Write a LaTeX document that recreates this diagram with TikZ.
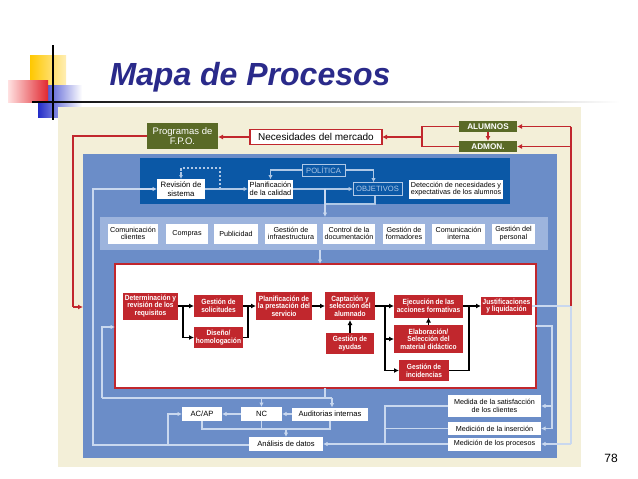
\documentclass[tikz,border=0pt]{standalone}
\usepackage{fontspec}
\setmainfont{Liberation Sans}
\newfontfamily\cond{Liberation Sans}[FakeStretch=0.88]
\usetikzlibrary{arrows.meta,calc}
\definecolor{beige}{HTML}{F3EFD8}
\definecolor{panel}{HTML}{6B8DC8}
\definecolor{band}{HTML}{0B58A6}
\definecolor{gband}{HTML}{9DB4DD}
\definecolor{ln}{HTML}{C9D8EF}
\definecolor{bandln}{HTML}{AFC8E6}
\definecolor{redc}{HTML}{C1272D}
\definecolor{greenc}{HTML}{5A6A27}
\definecolor{titlec}{HTML}{2A2A8A}
\tikzset{
  region/.style={inner sep=0pt, outer sep=0pt},
  wbox/.style={fill=white, inner sep=0.5pt, outer sep=0pt, align=center, font=\fontsize{7.2}{7.7}\selectfont},
  bbox/.style={fill=white, inner sep=0.5pt, outer sep=0pt, align=center, font=\fontsize{7.8}{8.6}\selectfont},
  pbox/.style={draw=bandln, line width=1pt, text=bandln, inner sep=0.5pt, outer sep=0pt, align=center, font=\fontsize{7.6}{8}\selectfont},
  rbox/.style={fill=redc, text=white, inner sep=0.5pt, outer sep=0pt, align=center, font=\cond\bfseries\fontsize{7.5}{7.6}\selectfont},
  gbox/.style={fill=greenc, text=white, inner sep=0.5pt, outer sep=0pt, align=center, font=\fontsize{9.5}{9.5}\selectfont},
  gboxb/.style={fill=greenc, text=white, inner sep=0.5pt, outer sep=0pt, align=center, font=\bfseries\fontsize{8.2}{8.2}\selectfont},
  nbox/.style={fill=white, draw=redc, line width=1.3pt, inner sep=0.5pt, outer sep=0pt, align=center, font=\fontsize{10}{10}\selectfont},
  lt/.style={draw=ln, line width=1.3pt},
  lta/.style={lt, -{Latex[length=4.5pt,width=4.5pt]}},
  bdl/.style={draw=bandln, line width=1.3pt},
  bda/.style={bdl, -{Latex[length=4.5pt,width=4.5pt]}},
  rl/.style={draw=redc, line width=1.5pt},
  ra/.style={rl, -{Latex[length=5pt,width=5pt]}},
  bl/.style={draw=black, line width=1.6pt},
  ba/.style={bl, -{Latex[length=5pt,width=5pt]}},
}
\begin{document}
\begin{tikzpicture}[x=1pt,y=-1pt]
\useasboundingbox (0,0) rectangle (638,479);
\fill[white] (0,0) rectangle (638,479);

% decoration top-left
\shade[left color={rgb,255:red,255;green,200;blue,0}, right color={rgb,255:red,255;green,238;blue,180}] (30,55) rectangle (66,87);
\shade[left color={rgb,255:red,35;green,45;blue,200}, right color=white] (38,85) rectangle (82,117);
\shade[left color={rgb,255:red,255;green,225;blue,225}, right color={rgb,255:red,225;green,40;blue,48}] (8,80) rectangle (48,102);
\draw[line width=1.3pt] (53,45) -- (53,120);
\shade[left color=black, right color=white] (32,101.4) rectangle (620,102.6);

% title
\node[text=titlec, font=\bfseries\itshape\fontsize{32}{36}\selectfont] (tit) at (250,77) {Mapa de Procesos};

% background regions
\fill[beige] (58,107) rectangle (581,467);
\node[region, fill=panel, minimum width=474, minimum height=304] (panel) at (320,306) {};
\node[region, fill=band, minimum width=370, minimum height=46] (band) at (325,181) {};
\node[region, fill=gband, minimum width=448, minimum height=33] (gb) at (324,233.5) {};
\node[region, draw=redc, fill=white, line width=1.5pt, minimum width=421, minimum height=124] (frame) at (325.5,326) {};

% top boxes
\node[gbox, minimum width=71, minimum height=26] (prog) at (182.5,136) {Programas de\\F.P.O.};
\node[nbox, minimum width=132, minimum height=15] (nec) at (316,137) {Necesidades del mercado};
\node[gboxb, minimum width=58, minimum height=11] (alum) at (488,126.5) {ALUMNOS};
\node[gboxb, minimum width=58, minimum height=11] (admon) at (488,146.5) {ADMON.};

% dark band boxes
\node[bbox, minimum width=48, minimum height=20] (rev) at (181,189) {Revisión de\\sistema};
\node[wbox, font=\fontsize{7.4}{8}\selectfont, minimum width=45, minimum height=19] (plan) at (270.5,189) {Planificación\\de la calidad};
\node[pbox, minimum width=43, minimum height=12] (pol) at (323.5,170) {POLÍTICA};
\node[pbox, minimum width=49, minimum height=13] (obj) at (377.5,189) {OBJETIVOS};
\node[wbox, minimum width=94, minimum height=19] (det) at (456,189) {Detección de necesidades y\\expectativas de los alumnos};

% grey band boxes
\node[wbox, minimum width=50, minimum height=20] (comc) at (133,233.5) {Comunicación\\clientes};
\node[wbox, minimum width=42, minimum height=20] (comp) at (187,233.5) {Compras};
\node[wbox, minimum width=44, minimum height=20] (publ) at (236,233.5) {Publicidad};
\node[wbox, minimum width=52, minimum height=20] (ginf) at (291,233.5) {Gestión de\\infraestructura};
\node[wbox, minimum width=52, minimum height=20] (cdoc) at (349,233.5) {Control de la\\documentación};
\node[wbox, minimum width=42, minimum height=20] (gform) at (404,233.5) {Gestión de\\formadores};
\node[wbox, minimum width=53, minimum height=20] (cint) at (458.5,233.5) {Comunicación\\interna};
\node[wbox, minimum width=43, minimum height=20] (gpers) at (513.5,233.5) {Gestión del\\personal};

% red process boxes
\node[rbox, minimum width=55, minimum height=27] (A) at (150.5,306) {Determinación y\\revisión de los\\requisitos};
\node[rbox, minimum width=49, minimum height=22] (B) at (218.5,306) {Gestión de\\solicitudes};
\node[rbox, minimum width=49, minimum height=21] (C) at (218.5,337.5) {Diseño/\\homologación};
\node[rbox, minimum width=56, minimum height=28] (D) at (284,306) {Planificación de\\la prestación del\\servicio};
\node[rbox, minimum width=50, minimum height=28] (E) at (350,306) {Captación y\\selección del\\alumnado};
\node[rbox, minimum width=48, minimum height=21] (F) at (350,343.5) {Gestión de\\ayudas};
\node[rbox, minimum width=69, minimum height=23] (G) at (428.5,306) {Ejecución de las\\acciones formativas};
\node[rbox, minimum width=69, minimum height=28] (H) at (428.5,339) {Elaboración/\\Selección del\\material didáctico};
\node[rbox, minimum width=50, minimum height=21] (I) at (424,370.5) {Gestión de\\incidencias};
\node[rbox, minimum width=51, minimum height=18] (J) at (506.5,306) {Justificaciones\\y liquidación};

% bottom boxes
\node[bbox, font=\fontsize{7.6}{8}\selectfont, minimum width=40, minimum height=14] (acap) at (202,414) {AC/AP};
\node[bbox, font=\fontsize{7.6}{8}\selectfont, minimum width=41, minimum height=14] (nc) at (261.5,414) {NC};
\node[bbox, font=\fontsize{7.6}{8}\selectfont, minimum width=76, minimum height=13] (aud) at (330,414) {Auditorias internas};
\node[bbox, font=\fontsize{7.6}{8}\selectfont, minimum width=74, minimum height=14] (anal) at (286,444) {Análisis de datos};
\node[wbox, minimum width=93, minimum height=22] (med) at (494.5,406) {Medida de la satisfacción\\de los clientes};
\node[wbox, minimum width=93, minimum height=13] (mins) at (494.5,428.5) {Medición de la inserción};
\node[wbox, minimum width=93, minimum height=13] (mproc) at (494.5,444) {Medición de los procesos};

% page number
\node[font=\fontsize{12}{12}\selectfont] (pg) at (611,458) {78};

% ---- red connectors (top)
\coordinate (rtop) at (571,126.5);
\coordinate (rj) at (571,306);
\coordinate (lj) at (422,137);
\coordinate (pl) at (73,307);
\draw[lt] (J.east) -- (rj) -- (rj |- mproc.east);
\draw[lta] (rj |- mproc.east) -- (mproc.east);
\draw[rl] (rtop) -- (rj);
\draw[ra] (rtop) -- (alum.east);
\draw[ra] (rtop |- admon.east) -- (admon.east);
\draw[ra] (alum.south) -- (admon.north);
\draw[rl] (alum.west) -| (lj);
\draw[rl] (admon.west) -| (lj);
\draw[ra] (lj) -- (nec.east);
\draw[ra] (nec.west) -- (nec.west -| prog.east);
\draw[rl] (prog.west) -| (pl);
\draw[ra] (pl) -- (pl -| panel.west);

% ---- dark band connectors
\coordinate (dj) at (220,189);
\coordinate (dk) at (220,168);
\coordinate (pj) at (325,189);
\coordinate (oj) at (325,204);
\draw[bda] (rev.east) -- (plan.west);
\draw[bdl, dashed, dash pattern=on 2.5pt off 1.5pt, -{Latex[length=4pt,width=4pt]}] (dj) -- (dk) -| (rev.north);
\draw[bda] (pol.west) -| (plan.north);
\draw[bda] (pol.east) -| ($(obj.north)+(-4,0)$);
\draw[bda] (plan.east) -- (obj.west);
\draw[bdl] (obj.south -| 375,0) |- (oj);
\draw[lta] (pj) -- (pj |- gb.north);

% grey band -> frame
\coordinate (gj) at (320,250);
\draw[lta] (gj) -- (gj |- frame.north);

% ---- black process connectors
\coordinate (sA) at (183,306);
\coordinate (mB) at (248,306);
\coordinate (sE) at (385,306);
\coordinate (mG) at (469,306);
\draw[bl] (A.east) -- (sA);
\draw[bl] (sA) -- (sA |- C.west);
\draw[ba] (sA) -- (B.west);
\draw[ba] (sA |- C.west) -- (C.west);
\draw[bl] (B.east) -- (mB);
\draw[bl] (C.east) -| (mB);
\draw[ba] (mB) -- (D.west);
\draw[ba] (D.east) -- (E.west);
\draw[ba] (F.north) -- (E.south);
\draw[bl] (E.east) -- (sE);
\draw[bl] (sE) -- (sE |- I.west);
\draw[ba] (sE) -- (G.west);
\draw[ba] (sE |- H.west) -- (H.west);
\draw[ba] (sE |- I.west) -- (I.west);
\draw[ba] (H.north) -- (G.south);
\draw[bl] (G.east) -- (mG);
\draw[bl] (I.east) -| (mG);
\draw[ba] (mG) -- (J.west);

% ---- bottom light connectors
\coordinate (fb) at (325,388);
\coordinate (hl) at (102,398);
\coordinate (hr) at (332,398);
\coordinate (fl) at (102,327);
\draw[lt] (fb) -- (fb |- hl);
\draw[lt] (hl) -- (hr);
\draw[lta] (hr) -- (hr |- aud.north);
\draw[lta] (hl -| nc.north) -- (nc.north);
\draw[lta] (hl) -- (fl) -- (fl -| frame.west);
\draw[lta] (nc.west) -- (acap.east);
\draw[lta] (aud.west) -- (nc.east);
\coordinate (aj) at (286,429);
\draw[lt] (acap.south) |- (aj);
\draw[lt] (aud.south) |- (aj);
\draw[lt] (nc.south) -- (nc.south |- aj);
\draw[lta] (aj) -- (anal.north);
\coordinate (lv) at (93,445);
\coordinate (lb) at (168,445);
\draw[lta] (anal.west |- lv) -- (lv) |- (rev.west);
\draw[lta] (lb) |- (acap.west);
\coordinate (mj) at (385,444);
\draw[lta] (mj) -- (anal.east);
\draw[lt] (med.west) -| (mj);
\draw[lt] (mins.west) -- (mins.west -| mj);
\draw[lt] (mproc.west) -- (mj);
\coordinate (rf) at (552,326);
\draw[lt] (frame.east |- rf) -- (rf) -- (rf |- mins.east);
\draw[lta] (rf |- mins.east) -- (mins.east);
\draw[lta] (rf |- med.east) -- (med.east);
\end{tikzpicture}
\end{document}
